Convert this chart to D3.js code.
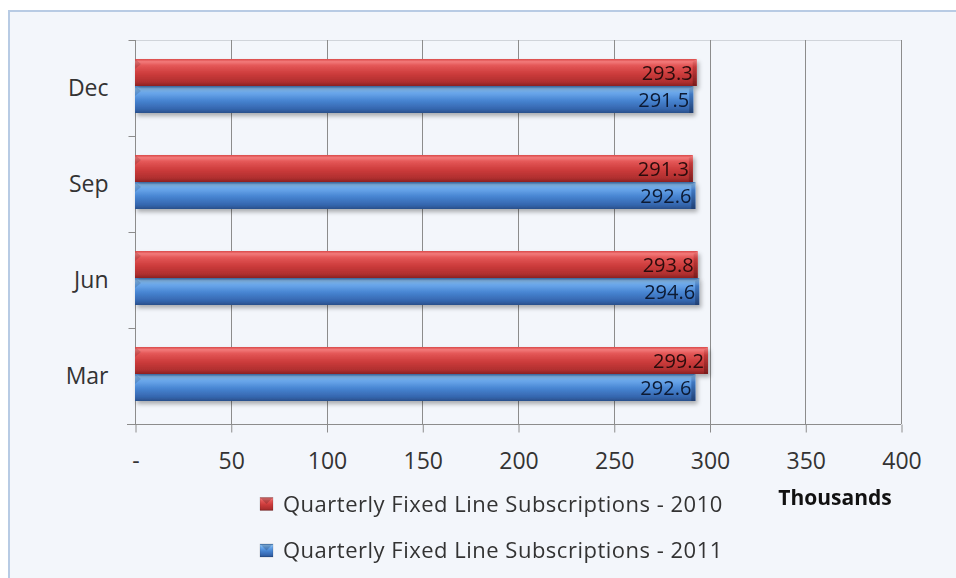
<!DOCTYPE html>
<html>
<head>
<meta charset="utf-8">
<script src="https://cdn.jsdelivr.net/npm/d3@7/dist/d3.min.js"></script>
<style>
  html, body { margin: 0; padding: 0; background: #ffffff; }
  svg { display: block; }
  text { font-family: "Open Sans", "Noto Sans", sans-serif; }
</style>
</head>
<body>
<svg id="chart" width="956" height="578"></svg>
<script>
// Quarterly fixed line subscriptions (thousands)
const quarters = ["Mar", "Jun", "Sep", "Dec"];
const subs2010 = [299.2, 293.8, 291.3, 293.3];
const subs2011 = [292.6, 294.6, 292.6, 291.5];
const seriesNames = ["Quarterly Fixed Line Subscriptions - 2010", "Quarterly Fixed Line Subscriptions - 2011"];
const xTicks = [0, 50, 100, 150, 200, 250, 300, 350, 400];
const axisTitle = "Thousands";

const svg = d3.select("#chart");
const W = 956, H = 578;
const plot = { left: 135, right: 901, top: 40, bottom: 424 };

// gradients for the bevelled bars
const defs = svg.append("defs");
function barGradient(id, stops) {
  const g = defs.append("linearGradient").attr("id", id)
    .attr("x1", 0).attr("y1", 0).attr("x2", 0).attr("y2", 1);
  stops.forEach(([o, c]) => g.append("stop").attr("offset", o).attr("stop-color", c));
}
barGradient("gRed", [[0, "#d94848"], [0.1, "#f27a7a"], [0.25, "#e35656"], [0.55, "#cc3b3b"], [0.85, "#b02f2f"], [1, "#8c2222"]]);
barGradient("gBlue", [[0, "#4d8ad6"], [0.1, "#8cc3f7"], [0.25, "#6aa8ec"], [0.55, "#4683d0"], [0.85, "#3566ae"], [1, "#284f8a"]]);
barGradient("gRedEnd", [[0, "#f08080"], [0.3, "#c23a3a"], [1, "#7a1c1c"]]);
barGradient("gBlueEnd", [[0, "#9bcdf8"], [0.3, "#3f78c2"], [1, "#213f72"]]);
const fil = defs.append("filter").attr("id", "shadow")
  .attr("x", "-5%").attr("y", "-30%").attr("width", "115%").attr("height", "180%");
fil.append("feDropShadow").attr("dx", 2).attr("dy", 3).attr("stdDeviation", 2)
  .attr("flood-color", "#000").attr("flood-opacity", 0.3);

// chart area background and frame
svg.append("rect").attr("x", 8).attr("y", 10).attr("width", W - 8).attr("height", H - 10)
  .attr("fill", "#f3f6fb");
svg.append("path").attr("d", `M9,${H} V11 H${W}`)
  .attr("fill", "none").attr("stroke", "#b8cbe4").attr("stroke-width", 2);

const x = d3.scaleLinear().domain([0, 400]).range([plot.left, plot.right]);
const yCat = d3.scaleBand().domain(quarters.slice().reverse()).range([plot.top, plot.bottom]);
const yBar = d3.scaleBand().domain(quarters.slice().reverse()).range([plot.top - 2, plot.bottom - 2])
  .paddingInner(0.4375).paddingOuter(0.21875);
const ySub = d3.scaleBand().domain([0, 1]).range([0, yBar.bandwidth()]);

// plot area outline (top edge)
svg.append("line").attr("x1", plot.left).attr("x2", plot.right)
  .attr("y1", plot.top + 0.5).attr("y2", plot.top + 0.5)
  .attr("stroke", "#d0d4da").attr("stroke-width", 1);

// vertical gridlines
svg.append("g").selectAll("line").data(xTicks.slice(1)).join("line")
  .attr("x1", d => Math.round(x(d)) + 0.5).attr("x2", d => Math.round(x(d)) + 0.5)
  .attr("y1", plot.top).attr("y2", plot.bottom)
  .attr("stroke", "#8c8c8c").attr("stroke-width", 1);

// x axis
const xAxis = d3.axisBottom(x).tickValues(xTicks).tickSize(8).tickPadding(20)
  .tickFormat(d => d === 0 ? "-" : d3.format("d")(d));
const gx = svg.append("g").attr("transform", `translate(0.5,${plot.bottom + 0.5})`).call(xAxis);
gx.select(".domain").attr("d", `M${plot.left - 8 - 0.5},0H${plot.right - 0.5}`).attr("stroke", "#8c8c8c");
gx.selectAll(".tick line").attr("stroke", "#8c8c8c");
gx.selectAll(".tick text").attr("fill", "#333").attr("font-size", 23)
  .attr("font-family", "'Open Sans', sans-serif");

// y axis: category labels with ticks on band boundaries
const gy = svg.append("g").attr("transform", `translate(${plot.left + 0.5},0)`);
gy.append("line").attr("x1", 0).attr("x2", 0).attr("y1", plot.top).attr("y2", plot.bottom)
  .attr("stroke", "#8c8c8c");
const bounds = quarters.slice().reverse().map(q => yCat(q)).concat([plot.bottom]);
gy.selectAll("line.tk").data(bounds).join("line").attr("class", "tk")
  .attr("x1", -7).attr("x2", 0).attr("y1", d => Math.round(d) + 0.5).attr("y2", d => Math.round(d) + 0.5)
  .attr("stroke", "#8c8c8c");
gy.selectAll("text").data(quarters).join("text")
  .attr("x", -27).attr("y", d => yCat(d) + yCat.bandwidth() / 2)
  .attr("dy", "0.35em").attr("text-anchor", "end")
  .attr("font-size", 23).attr("fill", "#333").text(d => d);

// bars
const series = [
  { name: seriesNames[0], values: subs2010, fill: "url(#gRed)", end: "url(#gRedEnd)", label: "#2b0c0c" },
  { name: seriesNames[1], values: subs2011, fill: "url(#gBlue)", end: "url(#gBlueEnd)", label: "#0c1a33" }
];
const bars = svg.append("g");
series.slice().reverse().forEach((s, ri) => {
  const si = series.length - 1 - ri;
  const g = bars.append("g").attr("filter", "url(#shadow)");
  quarters.forEach((q, i) => {
    const y0 = yBar(q) + ySub(si), h = ySub.bandwidth(), x0 = x(0), x1 = x(s.values[i]);
    g.append("rect").attr("x", x0).attr("y", y0).attr("width", x1 - x0).attr("height", h).attr("fill", s.fill);
    // bevelled right end
    g.append("path").attr("d", `M${x1 - 4},${y0 + 3} L${x1},${y0} V${y0 + h} H${x1 - 4} Z`).attr("fill", s.end);
    // bevelled left corner
    g.append("path").attr("d", `M${x0},${y0} L${x0 + 6},${y0 + 5} L${x0},${y0 + 10} Z`)
      .attr("fill", "#000").attr("opacity", 0.12);
  });
});
// value labels
series.forEach((s, si) => {
  svg.append("g").selectAll("text").data(quarters).join("text")
    .attr("x", (q, i) => x(s.values[i]) - 4)
    .attr("y", q => yBar(q) + ySub(si) + ySub.bandwidth() / 2)
    .attr("dy", "0.36em").attr("text-anchor", "end")
    .attr("font-size", 20).attr("fill", s.label)
    .text((q, i) => d3.format(".1f")(s.values[i]));
});

// axis title
svg.append("text").attr("x", 835).attr("y", 498).attr("dy", "0.35em").attr("text-anchor", "middle")
  .attr("font-size", 21).attr("font-weight", "bold").attr("fill", "#111").text(axisTitle);

// legend
const leg = svg.append("g");
series.forEach((s, i) => {
  const cy = 504 + i * 46.5;
  const row = leg.append("g");
  row.append("rect").attr("x", 260).attr("y", cy - 6.5).attr("width", 13).attr("height", 13).attr("fill", s.fill)
    .attr("stroke", "rgba(0,0,0,0.25)").attr("stroke-width", 0.5);
  row.append("path").attr("d", `M260,${cy - 6.5} L266.5,${cy} L273,${cy - 6.5} Z`).attr("fill", "#000").attr("opacity", 0.18);
  row.append("text").attr("x", 283).attr("y", cy).attr("dy", "0.35em")
    .attr("font-size", 22).attr("letter-spacing", 0.5).attr("fill", "#333").text(s.name);
});
</script>
</body>
</html>
